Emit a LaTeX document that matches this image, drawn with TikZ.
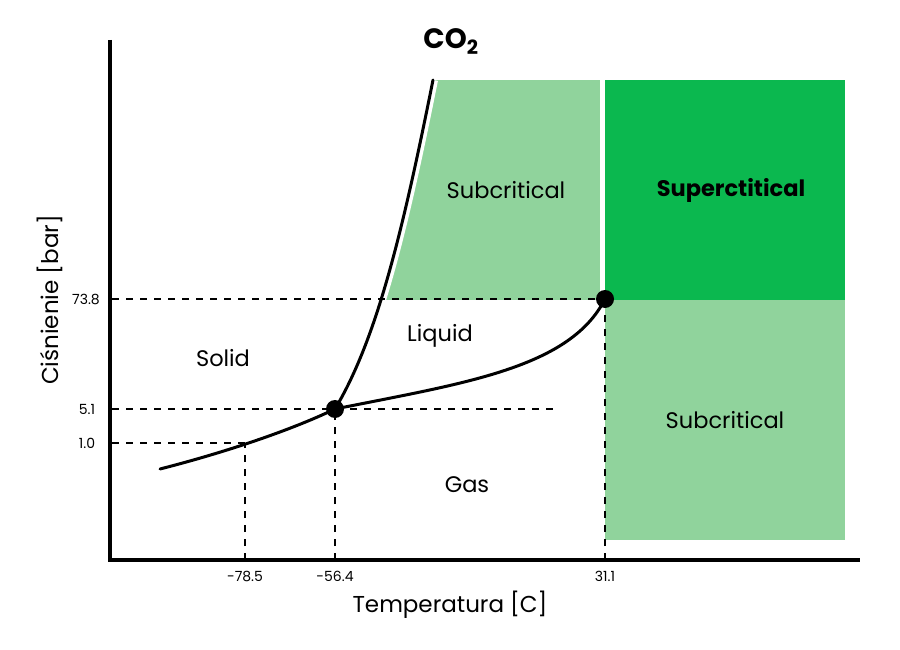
\documentclass[tikz,border=0pt]{standalone}
\usepackage{fontspec}
\setmainfont{Poppins}
\definecolor{lightg}{HTML}{90D39C}
\definecolor{darkg}{HTML}{0BB84F}
\begin{document}
\begin{tikzpicture}[x=1pt,y=-1pt,
  curve/.style={line width=3pt, line cap=round},
  dashline/.style={dash pattern=on 7pt off 7pt, line width=1.4pt},
  dot/.style={circle, fill=black, inner sep=0pt, minimum size=18pt},
  region/.style={font=\fontsize{22.5}{26}\selectfont, inner sep=0pt},
  ticklbl/.style={font=\fontsize{14}{16}\selectfont, inner sep=0pt},
  axislbl/.style={font=\fontsize{23}{26}\selectfont, inner sep=0pt}]
\useasboundingbox (0,0) rectangle (900,650);
% key coordinates
\coordinate (tpc) at (335,409);
\coordinate (cpc) at (605,299);
\coordinate (mtop) at (433,80);
\coordinate (sstart) at (160,469);
\coordinate (y738) at (112,299);
\coordinate (y51) at (112,409);
\coordinate (y51e) at (560,409);
\coordinate (y10) at (112,443);
\coordinate (y10e) at (245,443);
\coordinate (x785) at (245,560);
\coordinate (x564) at (335,560);
\coordinate (x311) at (605,560);
\coordinate (axtop) at (110,40);
\coordinate (axorig) at (110,560);
\coordinate (axright) at (860,560);
% fills
\fill[darkg] (605,80) rectangle (845,300);
\fill[lightg] (605,300) rectangle (845,540);
\begin{scope}
  \clip (tpc) .. controls (377,339) and (403,230) .. (mtop) -- (600,80) -- (600,420) -- cycle;
  \fill[lightg] (300,80) rectangle (600,300);
\end{scope}
% white gap along the melting curve
\draw[white, line width=10pt] (tpc) .. controls (377,339) and (403,230) .. (mtop);
% dashed guides
\draw[dashline] (y738) -- (cpc);
\draw[dashline] (y51) -- (y51e);
\draw[dashline] (y10) -- (y10e);
\draw[dashline] (x785) -- (y10e);
\draw[dashline] (x564) -- (tpc);
\draw[dashline] (x311) -- (cpc);
% phase curves
\draw[curve] (tpc) .. controls (377,339) and (403,230) .. (mtop);
\draw[curve] (sstart) .. controls (215,455) and (285,433) .. (tpc);
\draw[curve] (tpc) .. controls (465,383) and (570,368) .. (cpc);
% axes
\draw[line width=4pt] (axtop) -- (axorig) -- (axright);
% points
\node[dot] (tp) at (tpc) {};
\node[dot] (cp) at (cpc) {};
% texts
\node[font=\fontsize{28}{30}\selectfont\bfseries, inner sep=0pt] (title) at (451,42) {CO\textsubscript{2}};
\node[region] (sub1) at (506,190) {Subcritical};
\node[region, font=\fontsize{22.5}{26}\selectfont\bfseries] (sup) at (731,190) {Superctitical};
\node[region] (sub2) at (725,420) {Subcritical};
\node[region] (liq) at (440,336) {Liquid};
\node[region] (sol) at (223,358) {Solid};
\node[region] (gas) at (467,485) {Gas};
\node[ticklbl] (t738) at (86,299) {73.8};
\node[ticklbl] (t51) at (87,409) {5.1};
\node[ticklbl] (t10) at (87,443) {1.0};
\node[ticklbl] (t785) at (245,576) {-78.5};
\node[ticklbl] (t564) at (335,576) {-56.4};
\node[ticklbl] (t311) at (605,576) {31.1};
\node[axislbl] (xl) at (450,605) {Temperatura [C]};
\node[axislbl, rotate=90] (yl) at (50,300) {Ciśnienie [bar]};
\end{tikzpicture}
\end{document}
